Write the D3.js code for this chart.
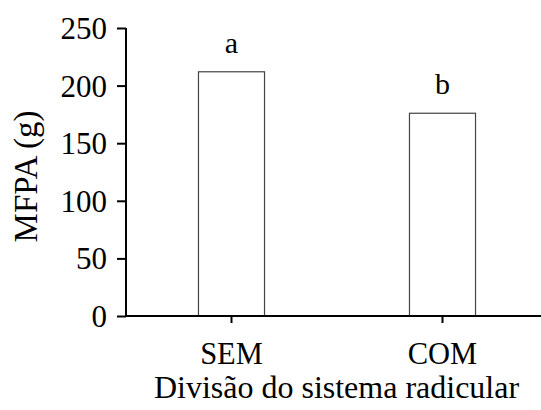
<!DOCTYPE html>
<html lang="pt-br">
<head>
    <meta charset="UTF-8">
    <title>MFPA</title>
    <script src="https://cdnjs.cloudflare.com/ajax/libs/d3/7.8.5/d3.min.js"></script>
    <style>
        body { margin: 0; background: #fff; }
    </style>
</head>
<body>
    <div id="chart"></div>
    <script>
        const categories = ["SEM", "COM"];
        const values = [212, 176];
        const letters = ["a", "b"];
        const yTicks = [0, 50, 100, 150, 200, 250];

        const width = 541, height = 410;
        const x0 = 126, x1 = 548, yTop = 28, yBottom = 316;
        const serif = "Liberation Serif, DejaVu Serif, serif";

        const svg = d3.select("#chart").append("svg")
            .attr("width", width)
            .attr("height", height)
            .style("font-family", serif);

        const x = d3.scaleBand()
            .domain(categories)
            .range([x0, x1])
            .paddingInner(0.687)
            .paddingOuter(0.3435);

        const y = d3.scaleLinear()
            .domain([0, 250])
            .range([yBottom, yTop]);

        // bars
        svg.selectAll("rect.bar")
            .data(values)
            .enter()
            .append("rect")
            .attr("class", "bar")
            .attr("x", (d, i) => x(categories[i]))
            .attr("y", d => y(d))
            .attr("width", x.bandwidth())
            .attr("height", d => y(0) - y(d))
            .attr("fill", "#fff")
            .attr("stroke", "#444")
            .attr("stroke-width", 1.2);

        // significance letters
        svg.selectAll("text.letter")
            .data(values)
            .enter()
            .append("text")
            .attr("class", "letter")
            .attr("x", (d, i) => x(categories[i]) + x.bandwidth() / 2)
            .attr("y", d => y(d) - 19)
            .attr("text-anchor", "middle")
            .attr("font-family", serif)
            .attr("font-size", 30)
            .text((d, i) => letters[i]);

        // y axis
        const yAxis = svg.append("g")
            .attr("transform", `translate(${x0},0)`)
            .call(d3.axisLeft(y).tickValues(yTicks).tickSize(9).tickPadding(10).tickFormat(d3.format("d")))
            .attr("font-family", serif)
            .attr("font-size", 31);
        yAxis.select(".domain").attr("stroke", "#000").attr("stroke-width", 2)
            .attr("d", `M0,${yTop}V${yBottom}`);
        yAxis.selectAll(".tick line").attr("stroke", "#000").attr("stroke-width", 2);
        yAxis.selectAll(".tick text").attr("dy", "0.34em");

        // x axis
        const xAxis = svg.append("g")
            .attr("transform", `translate(0,${yBottom})`)
            .call(d3.axisBottom(x).tickSize(7).tickPadding(19))
            .attr("font-family", serif)
            .attr("font-size", 30.5);
        xAxis.select(".domain").attr("stroke", "#000").attr("stroke-width", 2)
            .attr("d", `M${x0},0H${x1}`);
        xAxis.selectAll(".tick line").attr("stroke", "#000").attr("stroke-width", 2);
        xAxis.selectAll(".tick text").attr("dy", "0.71em");

        // axis titles
        svg.append("text")
            .attr("x", 336.5)
            .attr("y", 398)
            .attr("text-anchor", "middle")
            .attr("font-family", serif)
            .attr("font-size", 32)
            .text("Divisão do sistema radicular");

        svg.append("text")
            .attr("transform", "translate(37,176.5) rotate(-90)")
            .attr("text-anchor", "middle")
            .attr("font-family", serif)
            .attr("font-size", 33)
            .text("MFPA (g)");
    </script>
</body>
</html>
